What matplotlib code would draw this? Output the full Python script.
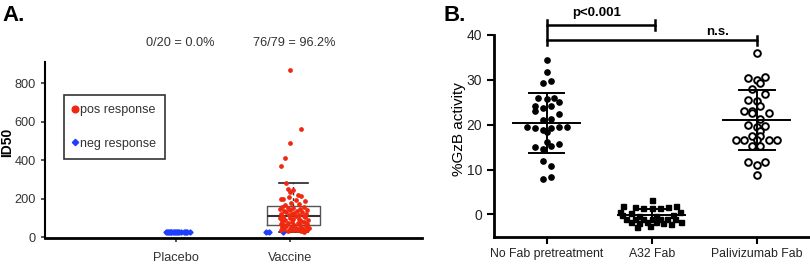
#!/usr/bin/env python3
# -*- coding: utf-8 -*-

import matplotlib
matplotlib.use("Agg")
import matplotlib.pyplot as plt

plt.rcParams["font.family"] = ["Liberation Sans", "DejaVu Sans"]

# ---- panel A data ----
groups_a = ["Placebo", "Vaccine"]
response_text = ["0/20 = 0.0%", "76/79 = 96.2%"]

placebo_neg = [25, 25, 25, 25, 25, 25, 25, 25, 25, 25,
               25, 25, 25, 25, 25, 25, 25, 25, 25, 25]
placebo_neg_jit = [-0.09, -0.08, -0.07, -0.06, -0.05, -0.045, -0.04, -0.03, -0.02, -0.01,
                   0.0, 0.01, 0.02, 0.03, 0.04, 0.07, 0.08, 0.09, 0.1, 0.12]

vaccine_neg = [25, 25, 25]
vaccine_neg_jit = [-0.21, -0.18, -0.06]

vaccine_pos = [870, 560, 490, 410, 370,
               282, 250, 245, 232, 220, 215, 208, 200, 198, 195, 186, 175, 170, 165,
               158, 155, 152, 150, 148, 145, 142, 140, 137, 135, 130, 128, 125, 122, 120, 118, 115, 113, 111,
               108, 105, 102, 100, 98, 95, 93, 90, 88, 85, 82, 80, 78, 75, 72, 70, 68, 65, 63,
               60, 58, 55, 53, 50, 48, 46, 45, 43, 42, 40, 38, 37, 36, 35, 34, 32, 30, 28]
vaccine_pos_jit = [0.0, 0.10, 0.0, -0.04, -0.08,
                   -0.03, -0.02, 0.03, 0.0, 0.07, 0.10, -0.01, -0.08, -0.06, 0.05, 0.13, 0.01, 0.08, -0.04,
                   -0.07, 0.12, 0.03, -0.02, 0.09, -0.09, 0.15, 0.0, 0.06, -0.05, 0.11, -0.03, 0.04, 0.14, -0.08, 0.02, 0.08, -0.01, 0.12,
                   0.05, -0.06, 0.13, 0.0, -0.09, 0.08, 0.03, 0.16, -0.04, 0.1, -0.07, 0.02, 0.12, -0.02, 0.07, -0.08, 0.15, 0.04, -0.05,
                   0.09, -0.03, 0.14, 0.01, -0.07, 0.11, 0.05, 0.17, -0.05, 0.08, 0.0, 0.13, -0.08, 0.06, 0.15, 0.03, 0.1, -0.02, 0.12]

# box summary for the vaccine group
box_q1, box_med, box_q3 = 62, 110, 160
box_whislo, box_whishi = 28, 282

# ---- panel B data ----
groups_b = ["No Fab pretreatment", "A32 Fab", "Palivizumab Fab"]

nofab = [34.5, 31.7, 29.3, 29.8, 25.9, 25.8, 26.0, 25.0, 24.2, 23.7, 24.1, 23.0, 22.3,
         21.1, 21.3, 19.4, 19.3, 18.9, 19.3, 19.6, 19.5, 18.3, 16.1, 15.0, 14.7, 15.2,
         15.6, 12.0, 10.7, 7.8, 8.4]
nofab_jit = [0, 0, -0.035, 0.045, -0.08, 0, 0.075, 0.115, -0.11, -0.035, 0.045, -0.11, 0.115,
             -0.035, 0.045, -0.19, -0.11, -0.035, 0.045, 0.115, 0.195, 0, 0, -0.11, -0.035, 0.045,
             0.115, -0.035, 0.045, -0.035, 0.045]

a32 = [3.2, 1.8, 1.6, 1.5, 1.5, 1.5, 1.6, 1.9, 0.6, 0.4, 0.5, -0.2, -0.3, -0.3, -0.2,
       -1.0, -1.0, -0.9, -1.1, -0.9, -1.0, -1.1, -1.6, -1.7, -1.8, -1.6, -1.7, -1.9,
       -2.6, -2.8, -2.2]
a32_jit = [0, -0.27, -0.16, -0.08, 0, 0.08, 0.155, 0.235, -0.30, -0.2, 0.27, -0.28, -0.12, 0.04, 0.20,
           -0.24, -0.16, -0.08, 0.0, 0.08, 0.15, 0.22, 0.28, -0.2, -0.12, -0.04, 0.04, 0.11,
           -0.02, -0.14, 0.18]

pali = [35.9, 30.4, 30.0, 29.4, 30.6, 27.9, 26.8, 25.6, 25.3, 24.2, 23.0, 23.1, 22.6, 22.7,
        21.3, 20.0, 19.4, 19.8, 18.7, 16.7, 16.5, 17.4, 17.4, 16.5, 16.7, 16.7, 15.2, 15.2,
        11.6, 11.1, 11.7, 8.9]
pali_jit = [0, -0.08, 0, 0.035, 0.075, -0.04, 0.075, -0.08, 0, 0.035, -0.12, -0.04, -0.04, 0.115,
            0.035, -0.08, 0, 0.075, 0.035, -0.2, -0.12, -0.04, 0.035, 0, 0.115, 0.195, -0.04, 0.035,
            -0.08, 0, 0.075, 0]

means_b = [20.4, -0.2, 21.1]
sds_b = [6.6, 1.4, 6.7]

fig = plt.figure(figsize=(8.1, 2.65), dpi=100)

# ================= panel A =================
ax = fig.add_axes([0.0556, 0.102, 0.4654, 0.664])
pos_a = [1, 2]

ax.bxp([dict(q1=box_q1, med=box_med, q3=box_q3, whislo=box_whislo, whishi=box_whishi,
             fliers=[])],
       positions=[2.03], widths=0.46, capwidths=0.25, showfliers=False,
       boxprops=dict(color="#555555", linewidth=1.0),
       medianprops=dict(color="#333333", linewidth=1.5),
       whiskerprops=dict(color="#333333", linewidth=1.0, linestyle=(0, (2, 2))),
       capprops=dict(color="#222222", linewidth=1.2), zorder=1)

ax.plot([pos_a[0] + j for j in placebo_neg_jit], placebo_neg, "D", color="#1f3fff",
        markersize=2.6, linestyle="none", zorder=3)
ax.plot([pos_a[1] + j for j in vaccine_neg_jit], vaccine_neg, "D", color="#1f3fff",
        markersize=2.6, linestyle="none", zorder=3)
ax.plot([pos_a[1] + j for j in vaccine_pos_jit], vaccine_pos, "o", color="#f02810",
        markersize=2.4, linestyle="none", zorder=3)

ax.set_xlim(-0.15, 3.16)
ax.set_ylim(-5, 910)
ax.set_yticks([0, 200, 400, 600, 800])
ax.set_xticks(pos_a)
ax.set_xticklabels(groups_a)
ax.tick_params(labelsize=9.2, length=3, width=1.2, colors="#333333", labelcolor="#333333")
ax.tick_params(axis="x", pad=7)
for s in ["top", "right"]:
    ax.spines[s].set_visible(False)
ax.spines["left"].set_linewidth(1.5)
ax.spines["bottom"].set_linewidth(2)
ax.set_ylabel("ID50", fontsize=10, fontweight="bold")
ax.yaxis.set_label_coords(-0.083, 0.545)

for p, t in zip(pos_a, response_text):
    ax.text(p + 0.04, 1.11, t, transform=ax.get_xaxis_transform(), ha="center", va="center",
            fontsize=9.2, color="#333333")

h1, = ax.plot([], [], "o", color="#f02810", markersize=4.8)
h2, = ax.plot([], [], "D", color="#1f3fff", markersize=3.2)
leg = ax.legend([h1, h2], ["pos response", "neg response"], loc="upper left",
                bbox_to_anchor=(0.05, 0.815), frameon=True, fancybox=False,
                edgecolor="black", fontsize=9, labelspacing=1.75, handlelength=0.35,
                handletextpad=0.15, borderpad=0.75, borderaxespad=0)
leg.get_frame().set_linewidth(1.2)
for t in leg.get_texts():
    t.set_color("#333333")

fig.text(0.003, 0.94, "A.", fontsize=16, fontweight="bold", va="center", ha="left")

# ================= panel B =================
bx = fig.add_axes([0.61, 0.106, 0.389, 0.762])
pos_b = [0, 1, 2]

bx.plot([pos_b[0] + j for j in nofab_jit], nofab, "o", color="black", markersize=3.8,
        linestyle="none", zorder=3)
bx.plot([pos_b[1] + j for j in a32_jit], a32, "s", color="black", markersize=3.6,
        linestyle="none", zorder=3)
bx.plot([pos_b[2] + j for j in pali_jit], pali, "o", markerfacecolor="white",
        markeredgecolor="black", markeredgewidth=1.4, markersize=4.8, linestyle="none", zorder=3)

for p, m, sd in zip(pos_b, means_b, sds_b):
    bx.plot([p - 0.32, p + 0.32], [m, m], color="black", lw=1.4, zorder=4)
    bx.plot([p - 0.17, p + 0.17], [m + sd, m + sd], color="black", lw=1.4, zorder=4)
    bx.plot([p - 0.17, p + 0.17], [m - sd, m - sd], color="black", lw=1.4, zorder=4)
    bx.plot([p, p], [m - sd, m + sd], color="black", lw=1.4, zorder=4)

# significance brackets
bx.plot([0, 0, 1.03, 1.03], [37.8, 42.2, 42.2, 41.1], color="black", lw=1.8,
        clip_on=False)
bx.plot([1.03, 1.03], [42.2, 43.3], color="black", lw=1.8, clip_on=False)
bx.plot([0, 0], [42.2, 43.3], color="black", lw=1.8, clip_on=False)
bx.plot([0, 2, 2], [38.9, 38.9, 37.8], color="black", lw=1.8, clip_on=False)
bx.plot([2, 2], [38.9, 39.8], color="black", lw=1.8, clip_on=False)
bx.text(0.48, 44.8, "p<0.001", ha="center", va="center", fontsize=9.5, fontweight="bold")
bx.text(1.63, 40.7, "n.s.", ha="center", va="center", fontsize=9.5, fontweight="bold")

bx.set_xlim(-0.5, 2.5)
bx.set_ylim(-5, 40)
bx.set_yticks([0, 10, 20, 30, 40])
bx.set_xticks(pos_b)
bx.set_xticklabels(groups_b)
bx.tick_params(labelsize=10, length=5, width=1.5, labelcolor="#222222")
bx.tick_params(axis="x", labelsize=8.8, pad=3)
for s in ["top", "right"]:
    bx.spines[s].set_visible(False)
bx.spines["left"].set_linewidth(2)
bx.spines["bottom"].set_linewidth(2)
bx.set_ylabel("%GzB activity", fontsize=11)
bx.yaxis.set_label_coords(-0.09, 0.535)

fig.text(0.548, 0.94, "B.", fontsize=16, fontweight="bold", va="center", ha="left")

fig.savefig("out.png", dpi=100)
plt.close(fig)
